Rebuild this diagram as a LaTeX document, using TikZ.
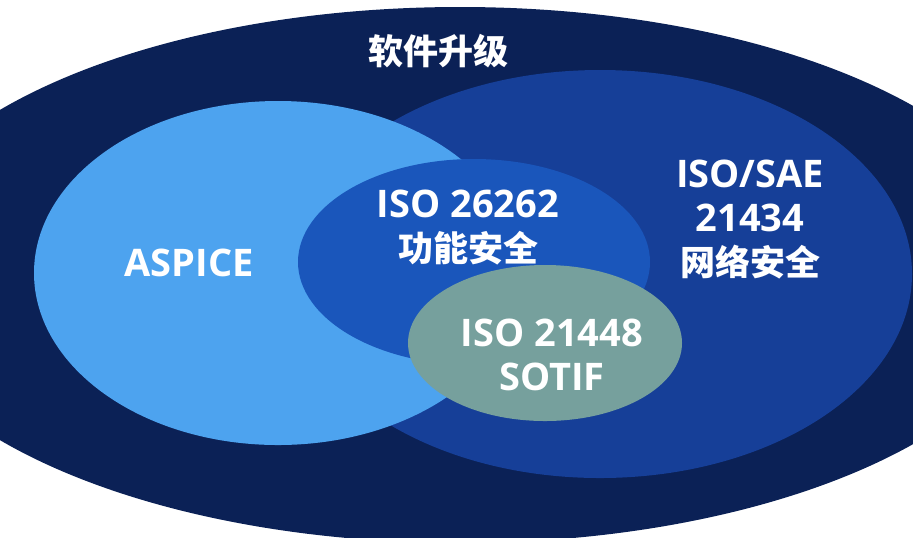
\documentclass[tikz,border=0pt]{standalone}
\usepackage{fontspec}
\usepackage{xcolor}
\setmainfont{Open Sans}
\newfontfamily\zhfont{Noto Sans CJK SC}
\usetikzlibrary{shapes.geometric}
\definecolor{navy}{HTML}{0B2156}
\definecolor{skyblue}{HTML}{4DA3EF}
\definecolor{saeblue}{HTML}{163F98}
\definecolor{fusablue}{HTML}{1A56BB}
\definecolor{sotifgrey}{HTML}{76A09D}

\begin{document}
\begin{tikzpicture}[x=0.5pt, y=-0.5pt,
    set/.style={ellipse, inner sep=0pt, draw=none},
    lbl/.style={text=white, align=center, font=\bfseries\fontsize{19}{22}\selectfont},
    zh/.style={text=white, font=\zhfont\bfseries\fontsize{17.5}{22}\selectfont}]
    \useasboundingbox (0,0) rectangle (913,537);
    \node[set, fill=navy, minimum width=584pt, minimum height=268pt] (upgradeset) at (460,275) {};
    \node[set, fill=saeblue, minimum width=312pt, minimum height=204pt] (sae) at (600,274) {};
    \node[set, fill=skyblue, minimum width=244pt, minimum height=172pt] (aspice) at (278,273) {};
    \node[set, fill=fusablue, minimum width=176pt, minimum height=103pt] (fusa) at (474,262) {};
    \node[set, fill=sotifgrey, minimum width=137pt, minimum height=78pt] (sotif) at (545,343) {};
    \node[zh] (upgrade) at (438,51) {软件升级};
    \node[lbl] (aspicetext) at (189,263) {ASPICE};
    \node[lbl] (fusatext) at (468,228) {ISO 26262\\{\zhfont\fontsize{17.5}{22}\selectfont 功能安全}};
    \node[lbl] (saetext) at (750,220) {ISO/SAE\\21434\\{\zhfont\fontsize{17.5}{22}\selectfont 网络安全}};
    \node[lbl] (sotiftext) at (552,355) {ISO 21448\\SOTIF};
\end{tikzpicture}
\end{document}
